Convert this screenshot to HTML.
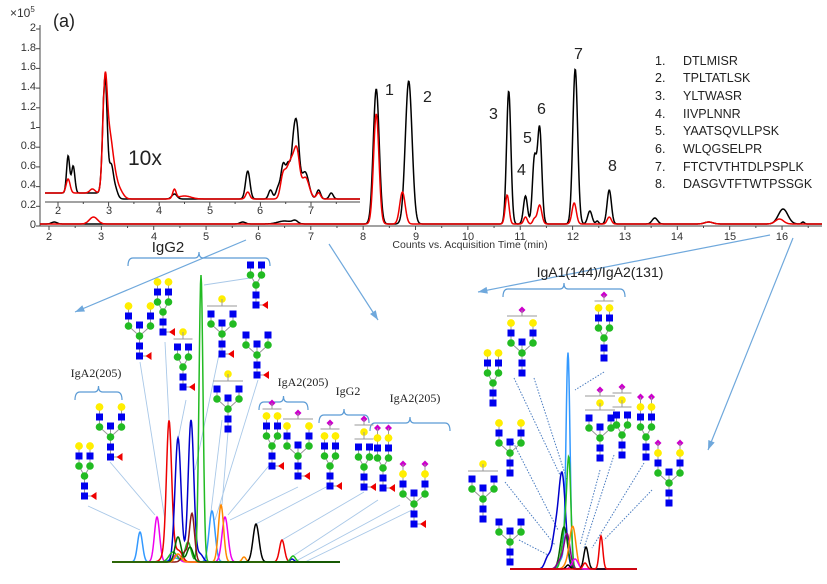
<!DOCTYPE html>
<html><head><meta charset="utf-8"><style>
html,body{margin:0;padding:0;background:#fff;}
svg{display:block;font-family:"Liberation Sans",sans-serif;}
</style></head><body>
<svg id="s" width="827" height="584" viewBox="0 0 827 584" xmlns="http://www.w3.org/2000/svg">
<g id="lines"></g>
<g stroke="#444" stroke-width="1" fill="none">
<line x1="40" y1="25" x2="40" y2="226"/>
<line x1="40" y1="226" x2="822" y2="226"/>
<line x1="45" y1="202" x2="360" y2="202"/>
</g>
<g id="ticks" stroke="#444" stroke-width="1"></g>
<g font-size="11" fill="#333" text-anchor="end">
<text x="36" y="31">2</text><text x="36" y="51">1.8</text><text x="36" y="70">1.6</text><text x="36" y="90">1.4</text><text x="36" y="110">1.2</text><text x="36" y="129">1</text><text x="36" y="149">0.8</text><text x="36" y="169">0.6</text><text x="36" y="188">0.4</text><text x="36" y="208">0.2</text><text x="36" y="228">0</text>
</g>
<text x="10" y="17" font-size="12" fill="#333">×10<tspan font-size="8" dy="-5">5</tspan></text>
<text x="53" y="27" font-size="18" fill="#222">(a)</text>
<text x="128" y="165" font-size="21" fill="#222">10x</text>
<g font-size="11" fill="#333" text-anchor="middle">
<text x="49" y="240">2</text><text x="101" y="240">3</text><text x="154" y="240">4</text><text x="206" y="240">5</text><text x="258" y="240">6</text><text x="311" y="240">7</text><text x="363" y="240">8</text><text x="416" y="240">9</text><text x="468" y="240">10</text><text x="520" y="240">11</text><text x="573" y="240">12</text><text x="625" y="240">13</text><text x="677" y="240">14</text><text x="730" y="240">15</text><text x="782" y="240">16</text>
<text x="58" y="214">2</text><text x="109" y="214">3</text><text x="159" y="214">4</text><text x="210" y="214">5</text><text x="260" y="214">6</text><text x="311" y="214">7</text>
</g>
<text x="470" y="248" font-size="10.5" fill="#333" text-anchor="middle">Counts vs. Acquisition Time (min)</text>
<g font-size="16" fill="#222">
<text x="385" y="95">1</text><text x="423" y="102">2</text><text x="489" y="119">3</text><text x="517" y="175">4</text><text x="523" y="143">5</text><text x="537" y="114">6</text><text x="574" y="59">7</text><text x="608" y="171">8</text>
</g>
<g font-size="12.5" fill="#222">
<text x="655" y="65">1.</text><text x="683" y="65">DTLMISR</text>
<text x="655" y="82">2.</text><text x="683" y="82">TPLTATLSK</text>
<text x="655" y="100">3.</text><text x="683" y="100">YLTWASR</text>
<text x="655" y="118">4.</text><text x="683" y="118">IIVPLNNR</text>
<text x="655" y="135">5.</text><text x="683" y="135">YAATSQVLLPSK</text>
<text x="655" y="153">6.</text><text x="683" y="153">WLQGSELPR</text>
<text x="655" y="171">7.</text><text x="683" y="171">FTCTVTHTDLPSPLK</text>
<text x="655" y="188">8.</text><text x="683" y="188">DASGVTFTWTPSSGK</text>
</g>
<g id="chrom" fill="none" stroke-width="1.6"></g>
<g fill="#222" font-family="Liberation Serif,serif">
<text x="168" y="252" font-size="15" text-anchor="middle" font-family="Liberation Sans,sans-serif">IgG2</text>
<text x="96" y="377" font-size="12" text-anchor="middle">IgA2(205)</text>
<text x="303" y="386" font-size="12" text-anchor="middle">IgA2(205)</text>
<text x="348" y="395" font-size="12" text-anchor="middle">IgG2</text>
<text x="415" y="402" font-size="12" text-anchor="middle">IgA2(205)</text>
</g>
<text x="600" y="277" font-size="14" fill="#222" text-anchor="middle">IgA1(144)/IgA2(131)</text>
<g id="gly"></g>
</svg>
<script>
var NS="http://www.w3.org/2000/svg",S=document.getElementById('s');
function el(p,t,a){var e=document.createElementNS(NS,t);for(var k in a)e.setAttribute(k,a[k]);p.appendChild(e);return e;}
var L=document.getElementById('lines'),C=document.getElementById('chrom'),G=document.getElementById('gly'),T=document.getElementById('ticks');
for(var t=2;t<=16.6;t+=0.5){var x=49+(t-2)*52.36;el(T,'line',{x1:x,y1:226,x2:x,y2:t%1==0?230:228});}
for(var v=0;v<=2.01;v+=0.2){var y=226-v*98.5;el(T,'line',{x1:36,y1:y,x2:40,y2:y});}
for(var t=2;t<=7.9;t+=0.5){var x=58+(t-2)*50.6;el(T,'line',{x1:x,y1:202,x2:x,y2:t%1==0?206:204});}
function trace(col,x0,x1,fx,base,peaks,w,k){k=k||1;var d='';for(var px=x0;px<=x1;px+=0.5){var y=base(px);for(var i=0;i<peaks.length;i++){var p=peaks[i],s=(p[2]||w)*k,dx=px-fx(p[0]);y-=p[1]*Math.exp(-dx*dx/(2*s*s));}d+=(d?'L':'M')+px.toFixed(1)+' '+y.toFixed(1);}el(C,'path',{d:d,stroke:col,'stroke-width':1.5});}
var mx=function(t){return 49+(t-2)*52.36;},ix=function(t){return 58+(t-2)*50.6;};
var mb=function(){return 224;};
trace('#000',40,822,mx,mb,[[8.25,135,2.2],[8.87,143,2.5],[10.78,133,1.6],[11.1,28,1.5],[11.27,64,1.5],[11.37,96,1.6],[12.05,155,1.8],[12.33,13,1.6],[12.47,3,1],[12.7,34,1.6],[13.57,6,2],[14.6,2,3],[16.02,15,3.5],[16.4,2,1],[2.1,2,2],[5.7,2,2],[6.5,3,5],[6.7,3,2]],2,1.35);
trace('#e00',40,822,mx,mb,[[8.25,110,2],[8.75,32,2],[10.75,29,1.4],[11.1,7,1.3],[11.27,5,1.2],[11.37,19,1.6],[12.03,21,1.6],[12.7,7,1.5],[14.6,2,3],[15.95,5,3],[2.85,7,3]],2,1.35);
var ib=function(px){return px<ix(2.9)?193:199;};
trace('#000',45,360,ix,ib,[[2.2,37,1.2],[2.3,27,1.3],[2.93,122,1.7],[3.05,28,1.5],[3.12,12,2],[4.3,5,2],[5.75,28,1.7],[6.2,9,1.5],[6.35,11,1.7],[6.45,33,1.7],[6.55,32,1.7],[6.65,43,1.6],[6.72,56,1.7],[6.9,17,2.5],[7.15,9,1.5],[7.4,6,1.5],[6.8,15,4]],1.5,1.3);
trace('#e00',45,360,ix,ib,[[2.2,14,1.5],[2.68,4,2],[2.93,115,1.7],[3.02,50,2],[3.1,22,2.2],[3.2,10,3],[4.3,9,1.3],[4.5,3,5],[5.75,7,1.5],[6.45,24,2],[6.55,22,2],[6.72,38,2],[6.63,25,2],[6.9,14,2.5],[7.15,6,1.5],[6.8,10,5]],1.5,1.3);
var lb=function(){return 562;},id=function(v){return v;};
trace('#3399ff',112,340,id,lb,[[140,30,2.5],[212,51,3],[175,4,5]],3);
trace('#ee00ee',112,340,id,lb,[[157,45,2.6],[225,45,3],[176,7,3]],3);
trace('#e00',112,340,id,lb,[[169,122,2.5],[170,20,5],[282,22,2.5],[180,8,3]],3);
trace('#0000cc',112,340,id,lb,[[178,124,3],[191,142,2.8],[200,8,3],[292,3,2]],3);
trace('#22bb22',112,340,id,lb,[[201,287,2],[188,20,3],[173,10,4],[293,6,2.5]],3);
trace('#8b1a1a',112,340,id,lb,[[192,48,2.5],[185,10,3]],3);
trace('#ff8800',112,340,id,lb,[[221,57,2.6],[178,8,3],[244,5,2]],3);
trace('#000',230,340,id,lb,[[256,38,3]],3);
trace('#006600',112,340,id,lb,[[178,25,3],[190,15,3]],3);
var rb=function(){return 569;};
trace('#3399ff',510,637,id,rb,[[568,215,2],[562,10,3]],2);
trace('#0000cc',510,637,id,rb,[[562,95,3.5],[555,30,3],[548,12,3]],3);
trace('#22bb22',510,637,id,rb,[[569,95,2],[565,40,3]],2);
trace('#006600',510,637,id,rb,[[564,42,3.5]],3);
trace('#880088',510,637,id,rb,[[567,35,3],[560,8,3]],3);
trace('#ff8800',510,637,id,rb,[[573,35,3],[570,10,4]],3);
trace('#ee00ee',510,637,id,rb,[[575,10,3]],3);
trace('#000',510,637,id,rb,[[586,22,2.2],[568,4,2]],2);
trace('#e00',510,637,id,rb,[[601,33,1.8],[585,6,2]],2);
function arrow(x1,y1,x2,y2){el(L,'line',{x1:x1,y1:y1,x2:x2,y2:y2,stroke:'#6fa8dc','stroke-width':1.2});var a=Math.atan2(y2-y1,x2-x1),h=10;var p=[[x2,y2],[x2-h*Math.cos(a-0.35),y2-h*Math.sin(a-0.35)],[x2-h*Math.cos(a+0.35),y2-h*Math.sin(a+0.35)]];el(L,'polygon',{points:p.join(' '),fill:'#6fa8dc'});}
arrow(246,240,75,312);arrow(329,244,378,320);arrow(770,235,478,292);arrow(793,238,708,450);
function br(x1,x2,y){var c='#5b9bd5';el(L,'path',{d:'M'+x1+' '+(y+8)+'Q'+x1+' '+y+' '+(x1+5)+' '+y+'L'+((x1+x2)/2-4)+' '+y+'Q'+((x1+x2)/2)+' '+y+' '+((x1+x2)/2)+' '+(y-6)+'Q'+((x1+x2)/2)+' '+y+' '+((x1+x2)/2+4)+' '+y+'L'+(x2-5)+' '+y+'Q'+x2+' '+y+' '+x2+' '+(y+8),stroke:c,fill:'none','stroke-width':1.2});}
br(128,270,258);br(75,122,392);br(259,308,402);br(319,369,415);br(370,450,423);br(503,625,289);
var ll=[[88,506,140,530],[110,462,155,515],[140,362,165,520],[165,342,170,440],[186,400,178,440],[222,340,195,470],[250,278,204,285],[222,420,210,520],[258,380,215,520],[228,432,222,505],[272,462,228,515],[298,487,230,520],[330,485,256,524],[364,492,282,540],[378,500,293,556],[400,505,298,560],[412,510,305,562]];
ll.forEach(function(l){el(L,'line',{x1:l[0],y1:l[1],x2:l[2],y2:l[3],stroke:'#a9c8e8','stroke-width':0.9});});
var rl=[[514,378,560,475],[534,378,567,480],[604,372,575,390],[512,440,558,530],[505,482,555,545],[519,540,548,555],[600,470,580,545],[614,455,584,548],[644,463,592,548],[652,490,604,540]];
rl.forEach(function(l){el(L,'line',{x1:l[0],y1:l[1],x2:l[2],y2:l[3],stroke:'#4a7cc0','stroke-width':1,'stroke-dasharray':'1.5,1.5'});});
function sq(x,y){el(G,'rect',{x:x-3.5,y:y-3.5,width:7,height:7,fill:'#0000ee'});}
function ci(x,y,c){el(G,'circle',{cx:x,cy:y,r:3.8,fill:c});}
function di(x,y){el(G,'polygon',{points:[x,y-3.5,x+3.5,y,x,y+3.5,x-3.5,y].join(' '),fill:'#cc00cc'});}
function ln(a,b,c,d){el(G,'line',{x1:a,y1:b,x2:c,y2:d,stroke:'#999','stroke-width':1});}
function gly(cx,y,o){var h=o.w?11:5.5,xl=cx-h,xr=cx+h,st=10;
 if(o.siaB){di(cx,y);ln(cx,y,cx,y+6);ln(xl-4,y+6,xr+4,y+6);y+=13;}
 if(o.sia2){di(xl,y);di(xr,y);ln(xl,y,xl,y+st);ln(xr,y,xr,y+st);y+=st;}
 if(o.galB){ci(cx,y,'#ffee00');ln(cx,y,cx,y+7);ln(xl-4,y+7,xr+4,y+7);y+=15;}
 if(o.gal){ci(xl,y,'#ffee00');ci(xr,y,'#ffee00');ln(xl,y,xl,y+st);ln(xr,y,xr,y+st);y+=st;}
 if(o.glc!==false){ln(xl,y,xl,y+st);ln(xr,y,xr,y+st);y+=st;}
 var ym=y,yc=y+st;ln(xl,ym,cx,yc);ln(xr,ym,cx,yc);ln(cx,yc,cx,yc+2*st);
 if(o.fuc){ln(cx,yc+2*st,cx+8,yc+2*st);el(G,'polygon',{points:[cx+6,yc+2*st,cx+12,yc+2*st-4,cx+12,yc+2*st+4].join(' '),fill:'#ee0000'});}
 if(o.bis){ln(cx,ym-1,cx,yc);sq(cx,ym-1);}
 ci(xl,ym,'#22bb22');ci(xr,ym,'#22bb22');ci(cx,yc,'#22bb22');sq(cx,yc+st);sq(cx,yc+2*st);
 var yy=ym-st;if(o.glc!==false){sq(xl,yy);sq(xr,yy);}
 yy-=st;if(o.gal){ci(xl,yy,'#ffee00');ci(xr,yy,'#ffee00');}
}
gly(84.5,446,{gal:1,fuc:1});
gly(110.5,407,{w:1,bis:1,gal:1,fuc:1});
gly(139.5,306,{w:1,bis:1,gal:1,fuc:1});
gly(163,282,{gal:1,fuc:1});
gly(183,332,{galB:1,fuc:1});
gly(222,299,{w:1,bis:1,galB:1,fuc:1});
gly(256,265,{fuc:1});
gly(257,335,{w:1,bis:1,fuc:1});
gly(228,374,{w:1,bis:1,galB:1});
gly(272,403,{siaB:1,gal:1,fuc:1});
gly(298,413,{w:1,bis:1,siaB:1,gal:1,fuc:1});
gly(330,423,{siaB:1,gal:1,fuc:1});
gly(364,419,{siaB:1,galB:1,fuc:1});
gly(383,428,{sia2:1,gal:1,fuc:1});
gly(414,464,{w:1,bis:1,sia2:1,gal:1,fuc:1});
gly(522,310,{w:1,bis:1,siaB:1,gal:1});
gly(604,295,{siaB:1,gal:1});
gly(493,353,{gal:1});
gly(510,423,{w:1,bis:1,gal:1});
gly(600,390,{w:1,bis:1,siaB:1,galB:1});
gly(622,387,{siaB:1,galB:1});
gly(646,397,{sia2:1,gal:1});
gly(669,443,{w:1,bis:1,sia2:1,gal:1});
gly(483,464,{w:1,bis:1,galB:1});
gly(510,522,{w:1,bis:1});
</script>
</body></html>
